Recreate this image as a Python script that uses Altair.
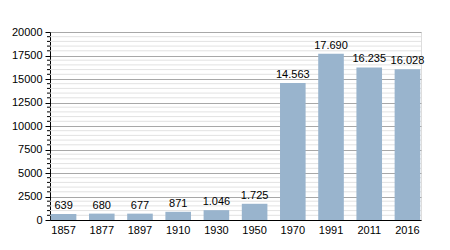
import altair as alt
import pandas as pd

years = ["1857", "1877", "1897", "1910", "1930", "1950", "1970", "1991", "2011", "2016"]
population = [639, 680, 677, 871, 1046, 1725, 14563, 17690, 16235, 16028]
major_ticks = [0, 2500, 5000, 7500, 10000, 12500, 15000, 17500, 20000]
minor_ticks = [v for v in range(0, 20001, 500) if v % 2500 != 0]

df = pd.DataFrame({"year": years, "pop": population})
minor_df = pd.DataFrame({"v": minor_ticks})

FONT = "Liberation Sans"
BAR = "#99b4cd"

yscale = alt.Scale(domain=[0, 20000], nice=False)

yaxis = alt.Axis(values=major_ticks, format="d", grid=True,
                 gridColor="#a8a8a8", domainColor="#000000",
                 tickColor="#000000", tickSize=5, labelOverlap=False,
                 labelFont=FONT, labelFontSize=11, labelColor="#000000",
                 labelPadding=3)

minor_grid = alt.Chart(minor_df).mark_rule(color="#e2e2e2", strokeWidth=1).encode(
    y=alt.Y("v:Q", scale=yscale, title=None, axis=yaxis),
    x=alt.value(0),
    x2=alt.value(371),
)
minor_tick = alt.Chart(minor_df).mark_rule(color="#000000", strokeWidth=1).encode(
    y=alt.Y("v:Q", scale=yscale, title=None, axis=yaxis),
    x=alt.value(-3),
    x2=alt.value(0),
)

bars = alt.Chart(df).mark_bar(color=BAR).encode(
    x=alt.X("year:N", sort=years, title=None,
            scale=alt.Scale(paddingInner=0.33, paddingOuter=0.02),
            axis=alt.Axis(labelAngle=0, ticks=False, domainColor="#000000",
                          labelFont=FONT, labelFontSize=11, labelColor="#000000",
                          labelPadding=4, grid=False)),
    y=alt.Y("pop:Q", scale=yscale, title=None, axis=yaxis),
)

labels = alt.Chart(df).transform_calculate(
    lab="replace(format(datum.pop, ','), ',', '.')"
).mark_text(baseline="bottom", dy=-3, font=FONT, fontSize=11, color="#000000").encode(
    x=alt.X("year:N", sort=years),
    y=alt.Y("pop:Q", scale=yscale, axis=yaxis),
    text="lab:N",
)

chart = alt.layer(minor_grid, minor_tick, bars, labels).properties(
    width=371, height=188,
    autosize=alt.AutoSizeParams(type="none"),
    padding={"left": 50, "top": 32, "right": 29, "bottom": 30},
).configure_view(stroke=None).configure(background="#ffffff")

chart.save("out.html", embed_options={"renderer": "svg", "actions": False})
